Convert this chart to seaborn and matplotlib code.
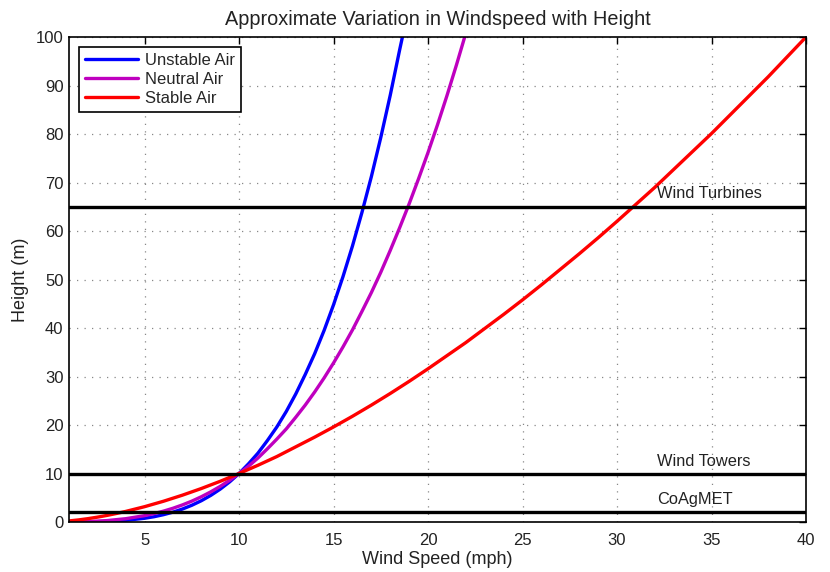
import matplotlib
matplotlib.use("Agg")
import matplotlib.pyplot as plt
import seaborn as sns
import pandas as pd

# Values
unstable_speed = [1, 2, 3, 4, 5, 5.5, 6, 6.5, 7, 7.5, 8, 8.5, 9, 9.5, 10, 10.5, 11, 11.5, 12, 12.5,
                  13, 13.5, 14, 14.5, 15, 15.5, 16, 16.5, 17, 17.5, 18, 18.5, 18.7]
unstable_height = [0.002, 0.03, 0.12, 0.34, 0.77, 1.09, 1.51, 2.03, 2.67, 3.45, 4.38, 5.48, 6.77, 8.27, 10.0, 12.0, 14.2, 16.8, 19.6, 22.8,
                   26.4, 30.4, 34.7, 39.5, 44.8, 50.6, 56.9, 63.8, 71.2, 79.3, 88.0, 97.4, 101.0]

neutral_speed = [1, 2, 3, 4, 5, 5.5, 6, 6.5, 7, 7.5, 8, 8.5, 9, 9.5, 10, 10.5, 11, 11.5, 12, 12.5,
                 13, 13.5, 14, 14.5, 15, 15.5, 16, 16.5, 17, 17.5, 18, 18.5, 19, 19.5, 20, 20.5, 21, 21.5, 22]
neutral_height = [0.01, 0.09, 0.29, 0.68, 1.31, 1.73, 2.24, 2.83, 3.52, 4.30, 5.20, 6.21, 7.34, 8.60, 10.0, 11.5, 13.2, 15.1, 17.1, 19.2,
                  21.6, 24.1, 26.8, 29.7, 32.8, 36.1, 39.6, 43.4, 47.3, 51.5, 56.0, 60.7, 65.6, 70.8, 76.2, 81.9, 87.9, 94.2, 100.8]

stable_speed = [1, 1.5, 2, 2.5, 3, 3.5, 4, 5, 6, 7, 8, 9, 10, 11, 12, 13, 14, 15, 16, 17, 18, 19, 20,
                21, 22, 23, 24, 25, 26, 27, 28, 29, 30, 31, 32, 33, 34, 35, 36, 37, 38, 39, 40]
stable_height = [0.22, 0.43, 0.69, 1.00, 1.35, 1.75, 2.18, 3.16, 4.28, 5.53, 6.90, 8.39, 10.0, 11.7, 13.5, 15.5, 17.5, 19.6, 21.8, 24.1, 26.5, 29.0, 31.6,
                 34.3, 37.0, 39.9, 42.8, 45.8, 48.9, 52.1, 55.3, 58.6, 62.0, 65.5, 69.0, 72.7, 76.4, 80.1, 84.0, 87.9, 91.8, 95.9, 100.0]

series_names = ["Unstable Air", "Neutral Air", "Stable Air"]
series_colors = ["#0000ff", "#bf00bf", "#ff0000"]

ref_heights = [65, 10, 2]
ref_labels = ["Wind Turbines", "Wind Towers", "CoAgMET"]
ref_label_y = [66.9, 11.5, 3.8]

x_ticks = [5, 10, 15, 20, 25, 30, 35, 40]
y_ticks = [0, 10, 20, 30, 40, 50, 60, 70, 80, 90, 100]

frames = []
for name, xs, ys in zip(series_names,
                        [unstable_speed, neutral_speed, stable_speed],
                        [unstable_height, neutral_height, stable_height]):
    frames.append(pd.DataFrame({"speed": xs, "height": ys, "air": name}))
df = pd.concat(frames, ignore_index=True)

sns.set_theme(style="white")
plt.rcParams["font.family"] = ["Liberation Sans", "DejaVu Sans"]

fig = plt.figure(figsize=(8.3, 5.72), dpi=100)
ax = fig.add_axes([0.0831, 0.0874, 0.8880, 0.8479])

sns.lineplot(data=df, x="speed", y="height", hue="air", hue_order=series_names,
             palette=series_colors, sort=False, linewidth=2.4, ax=ax, legend=True)

for h in ref_heights:
    ax.axhline(h, color="black", linewidth=2.4, zorder=3)

for lab, yy in zip(ref_labels, ref_label_y):
    ax.text(32.1, yy, lab, fontsize=11.8, color="#222222")

ax.set_xlim(1, 40)
ax.set_ylim(0, 100)
ax.set_xticks(x_ticks)
ax.set_yticks(y_ticks)
ax.tick_params(direction="in", top=True, right=True, length=5, width=1,
               labelsize=12, colors="black", pad=4)
ax.tick_params(axis="x", pad=8)
for lbl in ax.get_xticklabels() + ax.get_yticklabels():
    lbl.set_color("#222222")
ax.grid(True, linestyle=(0, (1, 5)), color="#888888", linewidth=0.9)
for s in ax.spines.values():
    s.set_color("black")
    s.set_linewidth(1.2)

ax.set_xlabel("Wind Speed (mph)", fontsize=13, labelpad=2, color="#222222")
ax.set_ylabel("Height (m)", fontsize=13, labelpad=5, color="#222222")
ax.set_title("Approximate Variation in Windspeed with Height", fontsize=14.3, pad=9, color="#222222")

leg = ax.legend(loc="upper left", fancybox=False, edgecolor="black", framealpha=1,
                fontsize=12, handlelength=3.2, borderpad=0.35, labelspacing=0.25,
                handletextpad=0.4, borderaxespad=0.6)
leg.get_frame().set_linewidth(1.2)
for line in leg.get_lines():
    line.set_linewidth(2.4)

fig.savefig("out.png", dpi=100)
